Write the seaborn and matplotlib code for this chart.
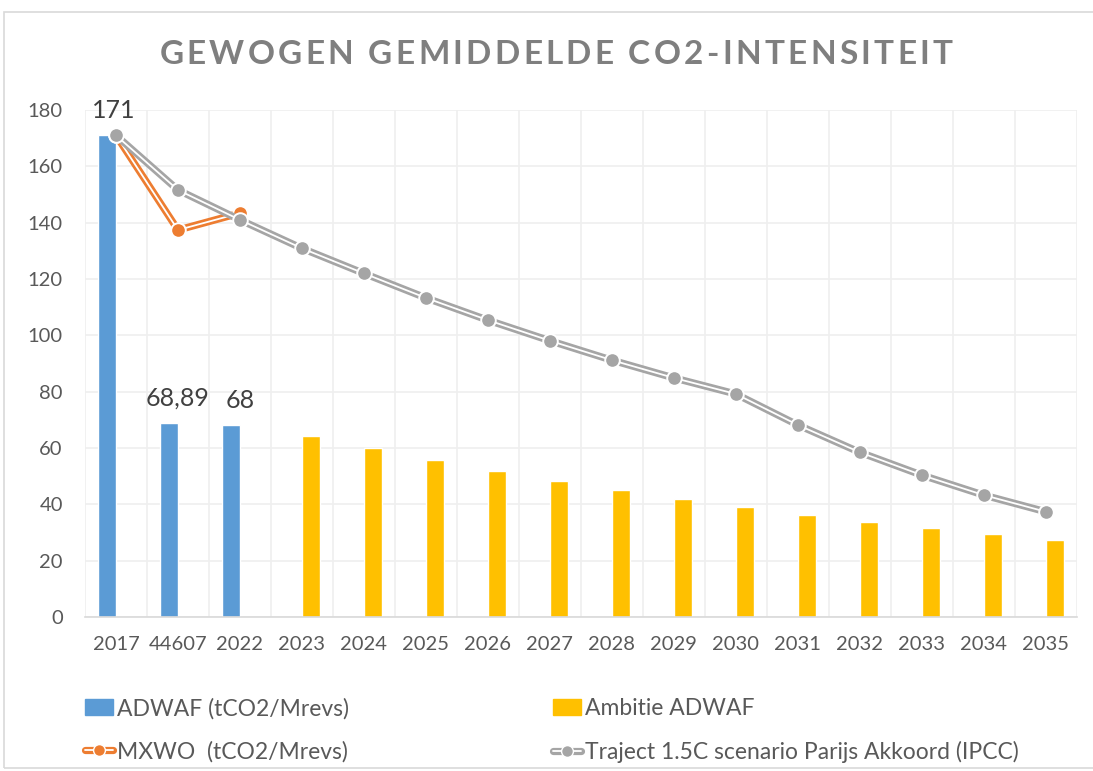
import numpy as np
import pandas as pd
import matplotlib
matplotlib.use("Agg")
import matplotlib.pyplot as plt
import seaborn as sns
from matplotlib.lines import Line2D
from matplotlib.patches import Patch, Rectangle
from matplotlib.legend_handler import HandlerTuple

# data
categories = ["2017", "44607", "2022", "2023", "2024", "2025", "2026", "2027",
              "2028", "2029", "2030", "2031", "2032", "2033", "2034", "2035"]
adwaf = [171, 68.89, 68] + [np.nan] * 13
ambitie = [np.nan] * 3 + [64.3, 59.9, 55.7, 51.8, 48.3, 45.0, 41.9,
                          38.9, 36.3, 33.8, 31.5, 29.4, 27.2]
mxwo = [171, 137.4, 143.4]
traject = [171, 151.6, 141, 130.9, 122, 113.3, 105.4, 98.1, 91.2, 84.9,
           79.2, 68.2, 58.5, 50.4, 43.3, 37.4]
adwaf_labels = ["171", "68,89", "68"]

series_names = ["ADWAF (tCO2/Mrevs)", "Ambitie ADWAF"]
MXWO_NAME = "MXWO  (tCO2/Mrevs)"
TRAJECT_NAME = "Traject 1.5C scenario Parijs Akkoord (IPCC)"
TITLE = "GEWOGEN GEMIDDELDE CO2-INTENSITEIT"

BLUE = "#5B9BD5"
YELLOW = "#FFC000"
ORANGE = "#ED7D31"
GRAY = "#A5A5A5"
TEXT = "#595959"

df = pd.DataFrame({
    "jaar": categories * 2,
    "serie": [series_names[0]] * len(categories) + [series_names[1]] * len(categories),
    "waarde": adwaf + ambitie,
})

sns.set_theme(style="white")
plt.rcParams["font.family"] = ["Lato", "DejaVu Sans"]

fig = plt.figure(figsize=(10.93, 7.71), dpi=100)
ax = fig.add_axes([0.0778, 0.1997, 0.9072, 0.6576])

sns.barplot(data=df, x="jaar", y="waarde", hue="serie", order=categories,
            hue_order=series_names, palette=[BLUE, YELLOW], width=0.58,
            dodge=True, ax=ax, legend=False, zorder=2, saturation=1)


def double_line(xs, ys, color, z):
    ax.plot(xs, ys, color=color, lw=5.2, zorder=z, solid_capstyle="round")
    ax.plot(xs, ys, color="white", lw=1.3, zorder=z + 0.1)
    ax.plot(xs, ys, ls="none", marker="o", ms=10.5, mfc=color,
            mec="white", mew=1.4, zorder=z + 0.2)


double_line(np.arange(len(mxwo)), mxwo, ORANGE, 4)
double_line(np.arange(len(traject)), traject, GRAY, 5)

# data labels on the ADWAF bars
for i, lab in enumerate(adwaf_labels):
    ax.annotate(lab, (i, adwaf[i]), xytext=(-2 if i == 0 else 0, 18),
                textcoords="offset points", ha="center", va="center",
                fontsize=18, color="#404040", zorder=6)

ax.set_ylim(0, 180)
ax.set_xlim(-0.5, len(categories) - 0.5)
ax.set_yticks(range(0, 181, 20))
ax.set_xlabel("")
ax.set_ylabel("")
ax.set_xticks(range(len(categories)))
ax.set_xticklabels(categories)
ax.set_xticks(np.arange(-0.5, len(categories), 1), minor=True)
ax.tick_params(axis="x", which="both", length=0, pad=14, labelsize=14.5, labelcolor=TEXT)
ax.tick_params(axis="y", length=0, pad=16, labelsize=14.5, labelcolor=TEXT)
ax.grid(axis="y", which="major", color="#EFEFEF", lw=1.2, zorder=0)
ax.grid(axis="x", which="minor", color="#EFEFEF", lw=1.2, zorder=0)
ax.set_axisbelow(True)
for side in ["top", "right", "left"]:
    ax.spines[side].set_visible(False)
ax.spines["bottom"].set_color("#D9D9D9")
ax.spines["bottom"].set_linewidth(1.2)

# title with letter spacing (Excel style), placed char by char
renderer = fig.canvas.get_renderer()
title_kw = dict(fontsize=24, fontweight="bold", color="#7F7F7F", va="center")
widths = []
for ch in TITLE:
    t = fig.text(0, 0, ch, **title_kw)
    widths.append(t.get_window_extent(renderer).width)
    t.remove()
gap = 3.3
fig_w = fig.get_figwidth() * fig.dpi
x = 556 - (sum(widths) + gap * (len(TITLE) - 1)) / 2
for ch, w in zip(TITLE, widths):
    fig.text(x / fig_w, 0.929, ch, ha="left", **title_kw)
    x += w + gap


def line_handle(color):
    return (Line2D([], [], color=color, lw=5.2),
            Line2D([], [], color="white", lw=1.3),
            Line2D([], [], ls="none", marker="o", ms=8.5, mfc=color,
                   mec="white", mew=1.0))


handles = [Patch(color=BLUE), line_handle(ORANGE),
           Patch(color=YELLOW), line_handle(GRAY)]
labels = [series_names[0], MXWO_NAME, series_names[1], TRAJECT_NAME]
fig.legend(handles, labels, ncol=2, loc="upper left",
           bbox_to_anchor=(0.0585, 0.122), frameon=False, fontsize=16.5,
           labelcolor=TEXT, handlelength=1.25, handletextpad=0.15,
           labelspacing=0.95, columnspacing=8.9,
           handler_map={tuple: HandlerTuple(ndivide=1, pad=0)})

fig.patches.append(Rectangle((0.004, 0.004), 1.2, 0.981, transform=fig.transFigure,
                             fill=False, ec="#D9D9D9", lw=1.2))

fig.savefig("out.png", dpi=100)
